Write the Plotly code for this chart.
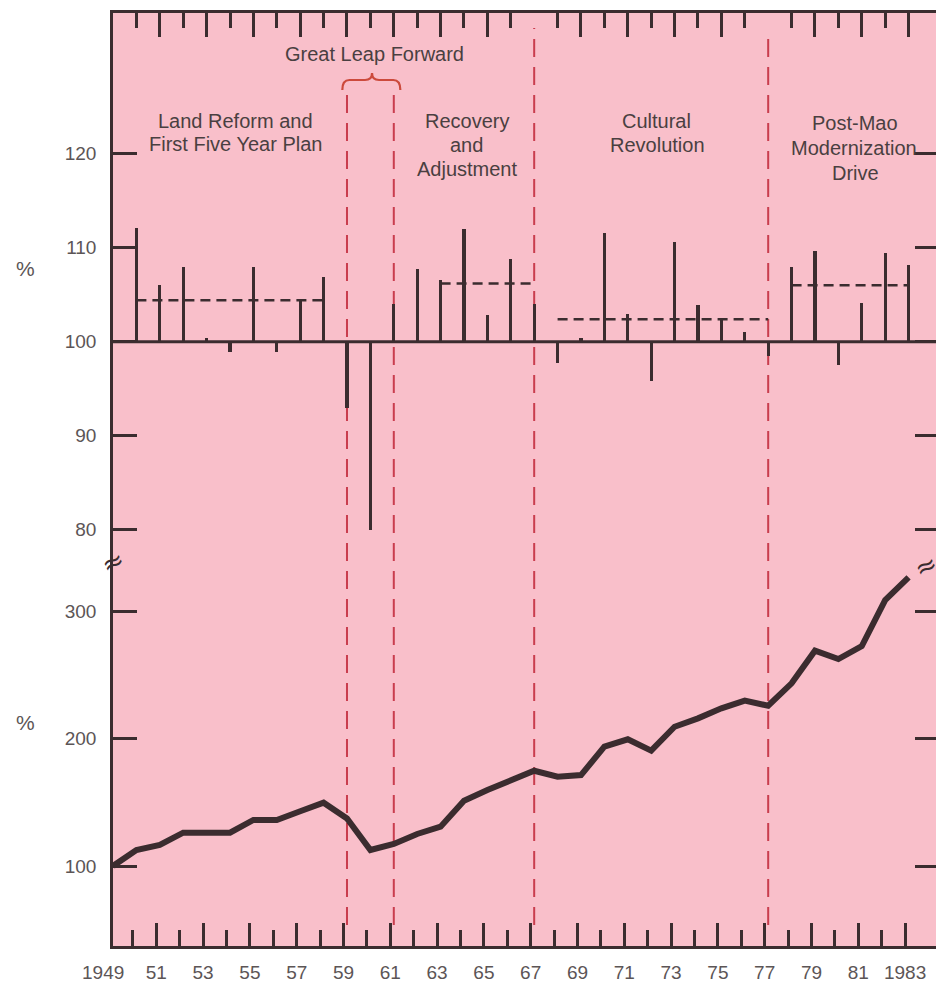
import plotly.graph_objects as go

# ---------------- data ----------------
growth_years = list(range(1950, 1984))
growth_index = [112.1, 106.0, 108.0, 100.4, 98.9, 108.0, 98.9, 104.4, 106.9, 92.9,
                80.0, 104.0, 107.7, 106.6, 112.0, 102.8, 108.8, 104.0, 97.7, 100.4,
                111.6, 102.9, 95.8, 110.6, 103.9, 102.4, 101.0, 98.5, 108.0, 109.6,
                97.5, 104.1, 109.4, 108.2]

level_years = list(range(1949, 1984))
level_index = [100.0, 112.6, 116.5, 126.2, 126.2, 126.2, 136.2, 136.2, 143.0, 149.8,
               137.4, 112.6, 117.3, 125.2, 130.9, 151.3, 159.7, 167.6, 174.9, 170.2,
               171.5, 193.8, 199.6, 190.7, 209.5, 216.1, 224.0, 230.0, 226.0, 243.6,
               269.3, 262.7, 272.9, 309.1, 327.0]

avg_start = [1950, 1963, 1968, 1978]
avg_end = [1958, 1967, 1977, 1983]
avg_value = [104.4, 106.2, 102.4, 106.0]

boundary_years = [1959, 1961, 1967, 1977]

top_ticks = [1951, 1953, 1955, 1957, 1959, 1961, 1963, 1965, 1969, 1971, 1973, 1975, 1979, 1981, 1983]
top_minor = list(range(1950, 1983, 2))
bottom_ticks = list(range(1951, 1984, 2))
bottom_labels = ["51", "53", "55", "57", "59", "61", "63", "65", "67", "69", "71", "73", "75", "77", "79", "81", "1983"]
bottom_minor = list(range(1950, 1983, 2))

top_yticks = [80, 90, 100, 110, 120]
bottom_yticks = [100, 200, 300]

period_labels = [
    ("Great Leap Forward", 374, 54.5),
    ("Land Reform and", 235.5, 120.8),
    ("First Five Year Plan", 235.5, 144.2),
    ("Recovery", 466.7, 120.8),
    ("and", 466.7, 145.3),
    ("Adjustment", 466.7, 169),
    ("Cultural", 656, 121.5),
    ("Revolution", 657, 145.3),
    ("Post-Mao", 855, 123.2),
    ("Modernization", 854, 148.2),
    ("Drive", 855.8, 172.8),
]

# ---------------- geometry (page pixels; page body has an 8px margin) ----------------
OFF = 8
W, H = 944 - OFF, 983 - OFF
PLOT_L, PLOT_R, PLOT_T, PLOT_B = 113, 939, 13, 946
L, T = PLOT_L - OFF, PLOT_T - OFF
R, B = (OFF + W) - PLOT_R, (OFF + H) - PLOT_B
PW, PH = PLOT_R - PLOT_L, PLOT_B - PLOT_T
SPLIT = 560  # pixel row of the axis break
XMIN, XMAX = 1949.0, 1984.3


def X(px):
    return (px - PLOT_L) / PW


def Y(py):
    return (PLOT_B - py) / PH


def XY(yr):  # year -> paper x
    return (yr - XMIN) / (XMAX - XMIN)


DARK = "#3b2c2f"
PINK = "#f9bfca"
RED = "#c93d4e"
BRACE = "#cc4a3c"
TXT = "#4a3f41"
TICKTXT = "#5c5556"
FONT = "Liberation Sans, Arial, sans-serif"

split_frac = Y(SPLIT)

fig = go.Figure()

# growth bars around 100
fig.add_trace(go.Bar(
    x=growth_years, y=[g - 100 for g in growth_index], base=100,
    width=0.13, marker=dict(color=DARK, line=dict(width=0)),
    xaxis="x", yaxis="y", hoverinfo="skip", showlegend=False))

# period averages
for s, e, v in zip(avg_start, avg_end, avg_value):
    fig.add_trace(go.Scatter(
        x=[s, e], y=[v, v], mode="lines",
        line=dict(color=DARK, width=2.5, dash="10px,6px"),
        xaxis="x", yaxis="y", hoverinfo="skip", showlegend=False))

# invisible copy so the bottom (labelled) year axis is drawn
fig.add_trace(go.Scatter(
    x=level_years, y=level_index, mode="lines", opacity=0,
    line=dict(color=DARK, width=0),
    xaxis="x2", yaxis="y2", hoverinfo="skip", showlegend=False))

# level line
fig.add_trace(go.Scatter(
    x=level_years, y=level_index, mode="lines",
    line=dict(color=DARK, width=6),
    xaxis="x", yaxis="y2", hoverinfo="skip", showlegend=False))

shapes = []
# pink plot background
shapes.append(dict(type="rect", xref="paper", yref="paper", x0=0, x1=1, y0=0, y1=1,
                   fillcolor=PINK, line=dict(width=0), layer="below"))
# period boundaries
tops = {1959: Y(92), 1961: Y(92), 1967: Y(28), 1977: Y(32)}
for yr in boundary_years:
    shapes.append(dict(type="line", xref="paper", x0=XY(yr), x1=XY(yr), yref="paper",
                       y0=Y(925), y1=tops[yr], layer="below",
                       line=dict(color=RED, width=2, dash="18px,10px")))
# 100 baseline
shapes.append(dict(type="line", xref="paper", x0=0, x1=1, yref="y", y0=100, y1=100,
                   line=dict(color=DARK, width=3)))
# brace over Great Leap Forward
yl, ym, yt = Y(90), Y(80), Y(73)
xa, xm, xb = XY(1958.8), XY(1960.07), XY(1961.28)
d = XY(1949.3) - XY(1949.0)
path = (f"M {xa},{yl} Q {xa},{ym} {xa+d},{ym} L {xm-d},{ym} "
        f"Q {xm},{ym} {xm},{yt} Q {xm},{ym} {xm+d},{ym} L {xb-d},{ym} "
        f"Q {xb},{ym} {xb},{yl}")
shapes.append(dict(type="path", xref="paper", yref="paper", path=path,
                   line=dict(color=BRACE, width=2.2)))

annotations = []
for text, px, py in period_labels:
    annotations.append(dict(text=text, xref="paper", yref="paper", x=X(px), y=Y(py),
                            xanchor="center", yanchor="middle", showarrow=False,
                            font=dict(family=FONT, size=20, color=TXT)))
# % axis titles
for py in (268, 722):
    annotations.append(dict(text="%", xref="paper", yref="paper", x=X(25), y=Y(py),
                            xanchor="center", yanchor="middle", showarrow=False,
                            font=dict(family=FONT, size=21, color=TICKTXT)))
# 1949 label
annotations.append(dict(text="1949", xref="paper", yref="paper", x=X(103), y=Y(973),
                        xanchor="center", yanchor="middle", showarrow=False,
                        font=dict(family=FONT, size=19, color=TICKTXT)))
# axis break marks
for px, py in ((113, 562), (926, 566)):
    annotations.append(dict(text="≈", xref="paper", yref="paper", x=X(px), y=Y(py),
                            xanchor="center", yanchor="middle", showarrow=False,
                            textangle=-25,
                            font=dict(family="DejaVu Sans", size=26, color=DARK)))

yaxis_common = dict(showgrid=False, zeroline=False, showline=True, linewidth=2.5,
                    linecolor=DARK, mirror="ticks", ticks="inside", ticklen=24,
                    tickwidth=2.5, tickcolor=DARK, automargin=False,
                    tickfont=dict(family=FONT, size=19, color=TICKTXT),
                    ticklabelstandoff=10, fixedrange=True)

fig.update_layout(
    template="none",
    width=W, height=H, autosize=False,
    margin=dict(l=L, r=R, t=T, b=B, pad=0, autoexpand=False),
    paper_bgcolor="white", plot_bgcolor="rgba(0,0,0,0)",
    showlegend=False, bargap=0,
    xaxis=dict(domain=[0, 1], anchor="y", side="top", range=[XMIN, XMAX],
               showgrid=False, zeroline=False, showline=True, linewidth=2.5,
               linecolor=DARK, ticks="inside", ticklen=24, tickwidth=2.5,
               tickcolor=DARK, tickvals=top_ticks, showticklabels=False,
               minor=dict(tickvals=top_minor, ticks="inside", ticklen=15,
                          tickwidth=2.5, tickcolor=DARK, showgrid=False),
               automargin=False, fixedrange=True),
    xaxis2=dict(domain=[0, 1], anchor="y2", side="bottom",
                range=[XMIN + 0.15, XMAX + 0.15],
                showgrid=False, zeroline=False, showline=True, linewidth=2.5,
                linecolor=DARK, ticks="inside", ticklen=23, tickwidth=2.5,
                tickcolor=DARK, tickvals=bottom_ticks, ticktext=bottom_labels,
                tickfont=dict(family=FONT, size=19, color=TICKTXT),
                ticklabelstandoff=7,
                minor=dict(tickvals=bottom_minor, ticks="inside", ticklen=16,
                           tickwidth=2.5, tickcolor=DARK, showgrid=False),
                automargin=False, fixedrange=True),
    yaxis=dict(domain=[split_frac, 1], anchor="x", range=[76.78, 134.97],
               tickvals=top_yticks, **yaxis_common),
    yaxis2=dict(domain=[0, split_frac], anchor="x2", range=[37.1, 340.6],
                tickvals=bottom_yticks, **yaxis_common),
    shapes=shapes, annotations=annotations,
)

fig.write_html("out.html")
